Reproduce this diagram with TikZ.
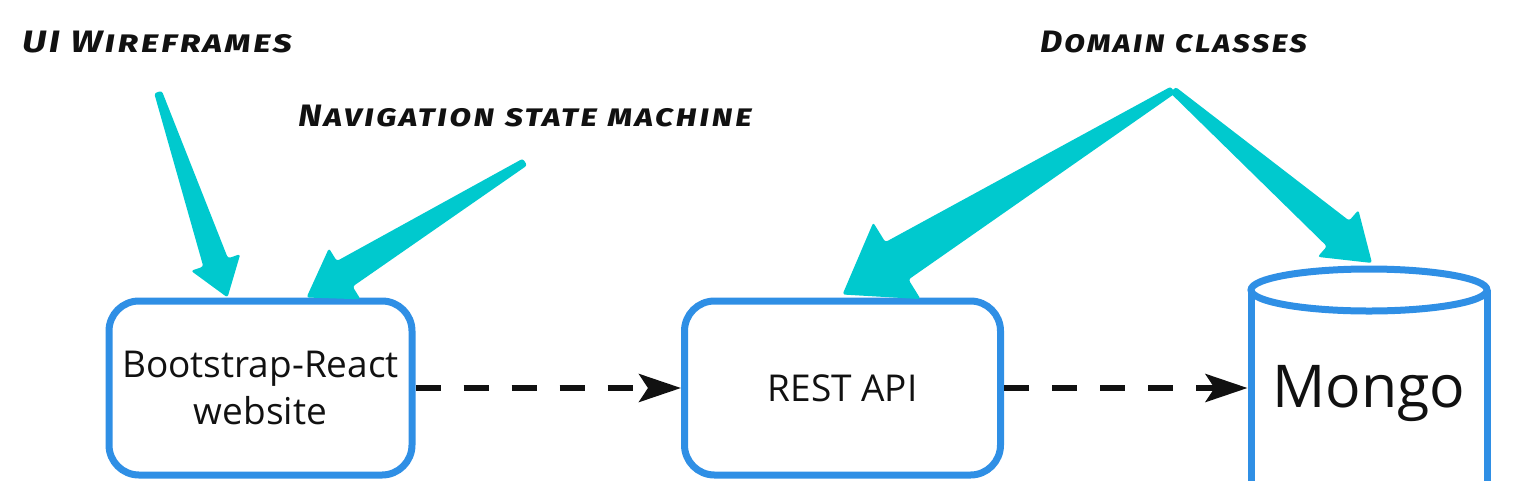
\documentclass[tikz,border=0pt]{standalone}
\usepackage{fontspec}
\usepackage{graphicx}
\setmainfont{Open Sans}
\newfontfamily\handfont{Fira Sans}[LetterSpace=6]
\usetikzlibrary{arrows.meta,calc}
\definecolor{boxblue}{HTML}{2F8FE5}
\definecolor{arrowcyan}{HTML}{00C9CE}
\definecolor{ink}{HTML}{111111}
\newcommand\fatarrow[6]{% tail, tip, tail half-width, shaft half-width, head length, head half-width
  \fill[arrowcyan, rounded corners=2.5pt]
    ($(#1)!#3!90:(#2)$) --
    ($(#2)!#5!(#1)!#4!-90:(#1)$) --
    ($(#2)!#5!(#1)!#6!-90:(#1)$) --
    (#2) --
    ($(#2)!#5!(#1)!#6!90:(#1)$) --
    ($(#2)!#5!(#1)!#4!90:(#1)$) --
    ($(#1)!#3!-90:(#2)$) -- cycle;
}
\newcommand\handtext[2]{\resizebox{#1}{\height}{#2}}
\begin{document}
\begin{tikzpicture}[x=1pt,y=-1pt,
  box/.style={draw=boxblue, line width=7pt, rounded corners=30pt, minimum width=#1, minimum height=174pt,
    inner sep=0pt, align=center, font=\fontsize{37}{47}\selectfont, text=ink},
  dasharrow/.style={draw=ink, line width=5.5pt, dash pattern=on 25pt off 23pt,
    -{Stealth[length=42pt,width=28pt,inset=9pt]}},
  lbl/.style={anchor=west, inner sep=0pt, text=ink,
    font=\handfont\fontsize{31}{34}\selectfont\bfseries\itshape\scshape},
  dbline/.style={draw=boxblue, line width=7pt},
]
\useasboundingbox (0,0) rectangle (1528,480);

% labels
\node[lbl] (ui)  at (22,42)   {\handtext{270pt}{UI Wireframes}};
\node[lbl] (nav) at (298,116) {\handtext{454pt}{Navigation state machine}};
\node[lbl] (dom) at (1040,42) {\handtext{267pt}{Domain classes}};

% boxes
\node[box=303pt] (web)  at (260.5,388) {Bootstrap-React\\website};
\node[box=316pt] (rest) at (842.5,388) {REST API};

% cylinder
\draw[dbline] (1369,290) ellipse [x radius=118pt, y radius=21pt];
\draw[dbline] (1251,290) -- (1251,500);
\draw[dbline] (1487,290) -- (1487,500);
\node[minimum width=236pt, minimum height=200pt, inner sep=0pt, outer sep=3.5pt,
  text=ink, font=\fontsize{59}{70}\selectfont] (mongo) at (1369,388) {\smash{\raisebox{-19pt}{Mongo}}};

% dashed connectors
\draw[dasharrow] (web.east) -- (rest.west);
\draw[dasharrow] (rest.east) -- (mongo.west);

% fat cyan arrows
\coordinate (uiT)  at (158,92);
\coordinate (uiP)  at ($(web.north)+(-33,0)$);
\coordinate (navT) at (525,162);
\coordinate (navP) at ($(web.north)+(46,0)$);
\coordinate (domT) at (1173,90);
\coordinate (restP) at ($(rest.north)+(0,-3)$);
\coordinate (dbP) at (1372,263);
\fatarrow{uiT}{uiP}{4pt}{13pt}{37pt}{26pt}
\fatarrow{navT}{navP}{4pt}{15pt}{45pt}{30pt}
\fatarrow{domT}{restP}{4pt}{22pt}{64pt}{45pt}
\fatarrow{domT}{dbP}{4pt}{17pt}{45pt}{31pt}
\end{tikzpicture}
\end{document}
